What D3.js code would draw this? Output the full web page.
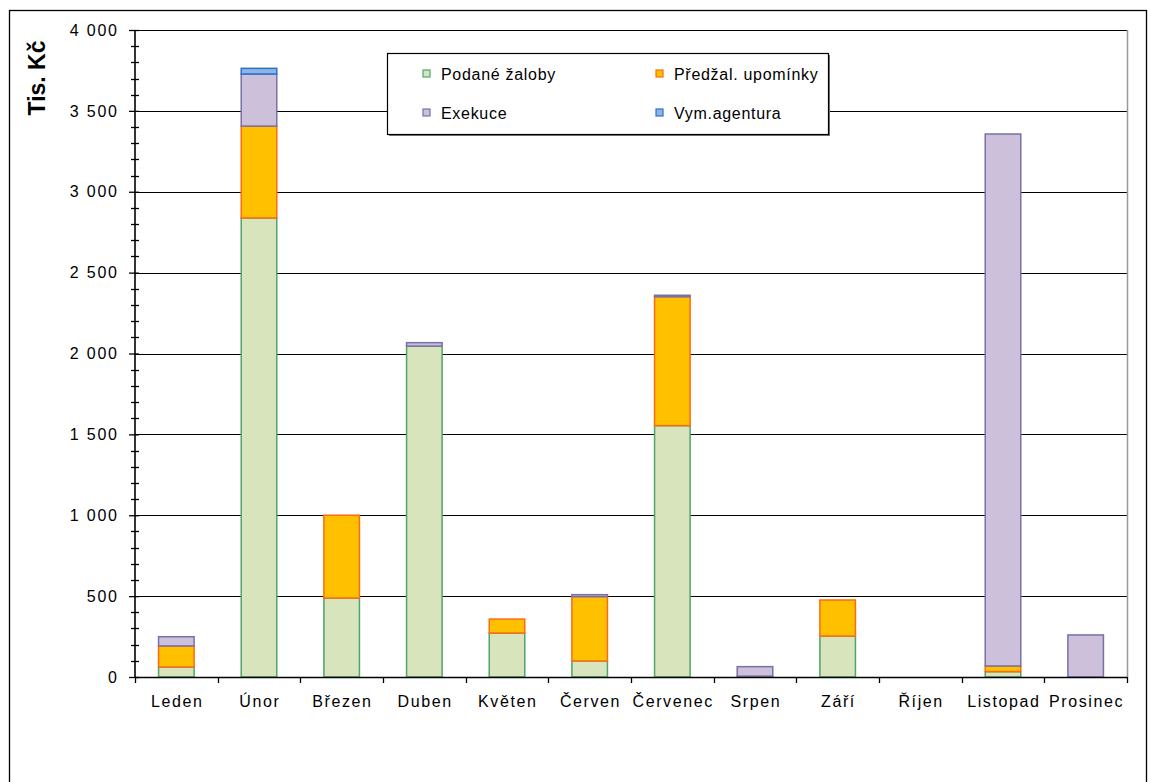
<!DOCTYPE html>
<html>
<head>
<meta charset="utf-8">
<script src="https://cdn.jsdelivr.net/npm/d3@7"></script>
<style>
  body { margin: 0; background: #fff; }
  svg { display: block; font-family: "Liberation Sans", Arial, sans-serif; }
</style>
</head>
<body>
<div id="chart"></div>
<script>
// data
const months = ["Leden", "Únor", "Březen", "Duben", "Květen", "Červen", "Červenec", "Srpen", "Září", "Říjen", "Listopad", "Prosinec"]
const seriesNames = ["Podané žaloby", "Předžal. upomínky", "Exekuce", "Vym.agentura"]
const zaloby = [62, 2838, 488, 2046, 272, 99, 1554, 0, 253, 0, 33, 0]
const upominky = [130, 568, 512, 0, 86, 398, 797, 5, 223, 0, 35, 0]
const exekuce = [57, 322, 0, 21, 0, 12, 9, 59, 0, 0, 3289, 260]
const agentura = [0, 35, 0, 0, 0, 0, 0, 0, 0, 0, 0, 0]
const yTicks = [0, 500, 1000, 1500, 2000, 2500, 3000, 3500, 4000]

const fills = ["#d8e4bc", "#ffc000", "#ccc0da", "#8db4e2"]
const strokes = ["#4ea56e", "#ff6a10", "#7671a8", "#2a72cc"]

const W = 1156, H = 782
const margin = { top: 30, right: 29, bottom: 105, left: 135 }
const width = W - margin.left - margin.right
const height = H - margin.top - margin.bottom

const table = months.map((m, i) => ({
  month: m,
  [seriesNames[0]]: zaloby[i],
  [seriesNames[1]]: upominky[i],
  [seriesNames[2]]: exekuce[i],
  [seriesNames[3]]: agentura[i]
}))
const stacked = d3.stack().keys(seriesNames)(table)

const svg = d3.select("#chart").append("svg")
  .attr("width", W)
  .attr("height", H)

// outer frame
svg.append("rect")
  .attr("x", 9.5).attr("y", 10.5)
  .attr("width", 1137).attr("height", 800)
  .attr("fill", "none").attr("stroke", "#000").attr("stroke-width", 1.3)

const g = svg.append("g")
  .attr("transform", "translate(" + margin.left + "," + margin.top + ")")

const x = d3.scaleBand().domain(months).range([0, width]).paddingInner(0.57).paddingOuter(0.285)
const y = d3.scaleLinear().domain([0, 4000]).range([height, 0])

// gridlines
g.append("g")
  .selectAll("line")
  .data(yTicks.slice(1))
  .enter().append("line")
  .attr("x1", 0).attr("x2", width)
  .attr("y1", d => Math.round(y(d)) + 0.5).attr("y2", d => Math.round(y(d)) + 0.5)
  .attr("stroke", "#000").attr("stroke-width", 1.2)

// right edge of plot area
g.append("line")
  .attr("x1", width + 0.5).attr("x2", width + 0.5)
  .attr("y1", 0).attr("y2", height)
  .attr("stroke", "#999").attr("stroke-width", 1.5)

// bars
g.selectAll(".series")
  .data(stacked)
  .enter().append("g")
  .attr("class", "series")
  .attr("fill", (d, i) => fills[i])
  .attr("stroke", (d, i) => strokes[i])
  .selectAll("rect")
  .data(d => d.filter(p => p[1] - p[0] > 0))
  .enter().append("rect")
  .attr("x", d => x(d.data.month))
  .attr("y", d => y(d[1]))
  .attr("width", x.bandwidth())
  .attr("height", d => y(d[0]) - y(d[1]))
  .attr("stroke-width", 1.5)

// y axis
const yAxis = g.append("g")
  .call(d3.axisLeft(y).tickValues(yTicks).tickSize(6).tickPadding(12)
    .tickFormat(d => d3.format(",")(d).replace(",", " ")))
yAxis.select(".domain").remove()
yAxis.selectAll(".tick line").attr("x2", -6).attr("x1", 4).attr("stroke-width", 1.3)
yAxis.selectAll("text")
  .attr("font-size", 16).attr("fill", "#000")
  .attr("letter-spacing", 1.8).attr("dx", 1.8)
  .attr("font-family", "Liberation Sans, Arial, sans-serif")

// minor ticks
g.append("g")
  .selectAll("line")
  .data(d3.range(0, 4001, 100).filter(v => v % 500 !== 0))
  .enter().append("line")
  .attr("x1", -4).attr("x2", 4)
  .attr("y1", d => Math.round(y(d)) + 0.5).attr("y2", d => Math.round(y(d)) + 0.5)
  .attr("stroke", "#000").attr("stroke-width", 1.3)

g.append("line")
  .attr("x1", 0).attr("x2", 0).attr("y1", 0).attr("y2", height)
  .attr("stroke", "#000").attr("stroke-width", 1.6)

// x axis
const xAxis = g.append("g")
  .attr("transform", "translate(0," + height + ")")
  .call(d3.axisBottom(x).tickSize(0).tickPadding(19))
xAxis.select(".domain").remove()
xAxis.selectAll("text")
  .attr("font-size", 16).attr("fill", "#000")
  .attr("letter-spacing", 1.6).attr("dx", 0.8)
  .attr("font-family", "Liberation Sans, Arial, sans-serif")

g.append("g")
  .selectAll("line")
  .data(d3.range(months.length + 1))
  .enter().append("line")
  .attr("x1", i => Math.round(x.step() * i) + 0.5).attr("x2", i => Math.round(x.step() * i) + 0.5)
  .attr("y1", height).attr("y2", height + 6)
  .attr("stroke", "#000").attr("stroke-width", 1.3)

g.append("line")
  .attr("x1", 0).attr("x2", width).attr("y1", height + 0.5).attr("y2", height + 0.5)
  .attr("stroke", "#000").attr("stroke-width", 1.6)

// y title
svg.append("text")
  .attr("transform", "translate(45,78) rotate(-90)")
  .attr("text-anchor", "middle")
  .attr("font-size", 23).attr("font-weight", "bold")
  .text("Tis. Kč")

// legend
const legend = svg.append("g").attr("transform", "translate(387,53)")
legend.append("rect")
  .attr("x", 2).attr("y", 2).attr("width", 441).attr("height", 81)
  .attr("fill", "#777")
legend.append("rect")
  .attr("x", 0.5).attr("y", 0.5).attr("width", 441).attr("height", 81)
  .attr("fill", "#fff").attr("stroke", "#000").attr("stroke-width", 1.2)

const items = legend.selectAll(".item")
  .data(seriesNames)
  .enter().append("g")
  .attr("class", "item")
  .attr("transform", (d, i) => "translate(" + (i % 2 === 0 ? 36 : 269) + "," + (i < 2 ? 21 : 60) + ")")
items.append("rect")
  .attr("x", 0).attr("y", -4).attr("width", 7).attr("height", 7)
  .attr("fill", (d, i) => fills[i]).attr("stroke", (d, i) => strokes[i]).attr("stroke-width", 1.2)
items.append("text")
  .attr("x", 18).attr("y", 5.5)
  .attr("font-size", 16).attr("letter-spacing", 0.7)
  .text(d => d)
</script>
</body>
</html>
